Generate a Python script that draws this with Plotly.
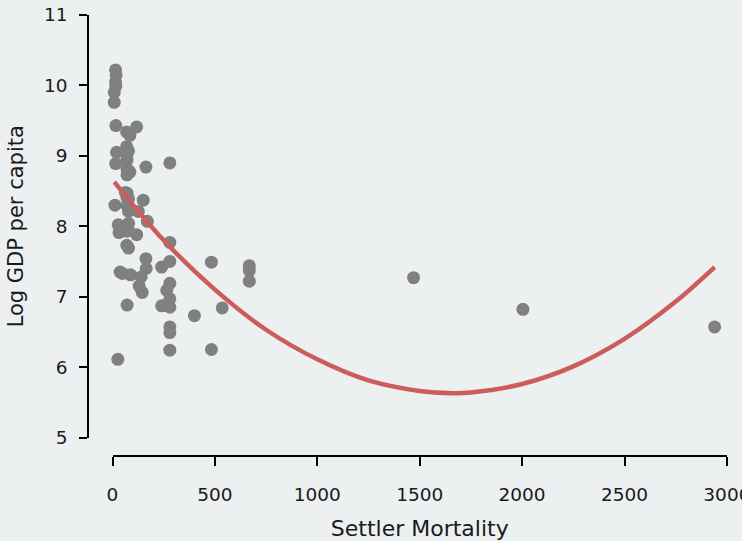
import plotly.graph_objects as go

# Settler mortality (x) and log GDP per capita (y)
mortality = [
    15, 17.7, 14.9, 16.1, 8.55, 8.55,
    16.3, 118, 68.9, 85,
    68.9, 78.1, 71, 20,
    71, 15.5, 163.3, 280,
    71, 78.1, 85, 71,
    63, 71, 71, 78.2, 150, 12, 71, 78.1, 126,
    170, 78.2, 28, 67.8, 78.1, 71, 32, 118,
    280, 78.1, 69.8, 163.3, 280, 483, 240, 668, 164.66, 668,
    37, 48.6, 88.2, 140, 1470, 668, 280, 130, 265, 145, 280,
    240, 280, 71.4, 2004, 536, 400, 2940, 280, 280, 483, 280, 26,
]
log_gdp = [
    10.22, 10.15, 10.05, 9.99, 9.90, 9.76,
    9.43, 9.41, 9.34, 9.29,
    9.13, 9.07, 9.03, 9.05,
    8.94, 8.89, 8.84, 8.90,
    8.81, 8.79, 8.77, 8.73,
    8.48, 8.47, 8.40, 8.39, 8.37, 8.30, 8.29, 8.21, 8.21,
    8.07, 8.04, 8.02, 7.95, 7.95, 7.93, 7.91, 7.88,
    7.77, 7.69, 7.73, 7.54, 7.50, 7.49, 7.42, 7.44, 7.40, 7.37,
    7.35, 7.33, 7.31, 7.28, 7.27, 7.22, 7.19, 7.15, 7.09, 7.06, 6.97,
    6.87, 6.85, 6.88, 6.82, 6.84, 6.73, 6.57, 6.57, 6.49, 6.25, 6.24, 6.11,
]

# Fitted curve
curve_x = [8.55, 250, 500, 750, 1000, 1250, 1500, 1660, 1750, 2000, 2250, 2500, 2750, 2940]
curve_y = [8.63, 7.80, 7.10, 6.53, 6.11, 5.81, 5.66, 5.63, 5.64, 5.76, 6.01, 6.40, 6.93, 7.42]

x_ticks = [0, 500, 1000, 1500, 2000, 2500, 3000]
y_ticks = [5, 6, 7, 8, 9, 10, 11]

BG = "#ecf0f1"
FONT = "DejaVu Sans"
TXT = "#1a1a1a"

fig = go.Figure()
fig.add_trace(go.Scatter(
    x=mortality, y=log_gdp, mode="markers",
    marker=dict(color="#808080", size=13, line=dict(width=0)),
    cliponaxis=False, hoverinfo="skip",
))
fig.add_trace(go.Scatter(
    x=curve_x, y=curve_y, mode="lines",
    line=dict(color="#cd5c5c", width=4.5, shape="spline"),
    cliponaxis=False, hoverinfo="skip",
))

W, H = 742, 541
ml, mr, mt, mb = 88, 15, 15, 85
pw, ph = W - ml - mr, H - mt - mb

fig.update_layout(
    width=W, height=H,
    margin=dict(l=ml, r=mr, t=mt, b=mb, pad=0, autoexpand=False),
    paper_bgcolor=BG, plot_bgcolor=BG,
    showlegend=False,
    font=dict(family=FONT, size=18, color=TXT),
    xaxis=dict(
        domain=[24.5 / pw, 1], range=[0, 3000.5], anchor="free", position=0,
        automargin=False,
        showgrid=False, zeroline=False,
        showline=True, linecolor="black", linewidth=1.5,
        ticks="outside", ticklen=9, tickwidth=1.5, tickcolor="black",
        tickvals=x_ticks, ticktext=[str(v) for v in x_ticks],
        tickfont=dict(size=18.5),
        ticklabelstandoff=13,
        ticklabeloverflow="allow",
        title=dict(text="Settler Mortality", standoff=20, font=dict(size=22)),
    ),
    yaxis=dict(
        domain=[18.5 / ph, 1], range=[5, 11], anchor="free", position=0,
        automargin=False,
        showgrid=False, zeroline=False,
        showline=True, linecolor="black", linewidth=1.5,
        ticks="outside", ticklen=8, tickwidth=1.5, tickcolor="black",
        tickvals=y_ticks, ticktext=[str(v) for v in y_ticks],
        tickfont=dict(size=18.5),
        ticklabelstandoff=8,
        ticklabeloverflow="allow",
        title=dict(text="Log GDP per capita", standoff=14, font=dict(size=21)),
    ),
)

fig.write_html(
    "out.html",
    config={"displayModeBar": False},
    post_script="document.body.style.margin='0px';document.body.style.backgroundColor='#ecf0f1';",
)
